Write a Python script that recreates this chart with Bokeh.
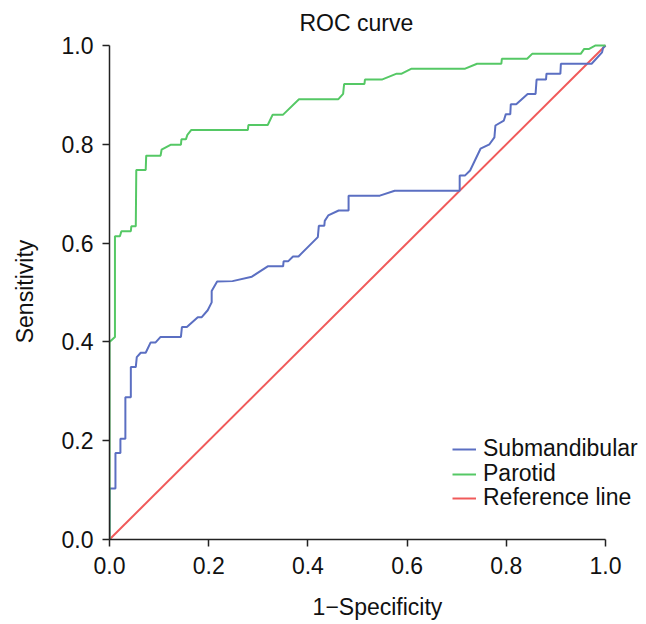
from bokeh.plotting import figure
from bokeh.models import Range1d, Legend, LegendItem, FixedTicker
from bokeh.embed import file_html
from bokeh.resources import INLINE

# Submandibular ROC curve (1-Specificity, Sensitivity)
sub_x = [0.0, 0.0, 0.012, 0.012, 0.022, 0.022, 0.032, 0.032, 0.043, 0.043, 0.053, 0.055,
         0.063, 0.073, 0.083, 0.093, 0.103, 0.144, 0.146, 0.156, 0.178, 0.186, 0.198, 0.206,
         0.206, 0.217, 0.248, 0.287, 0.319, 0.350, 0.351, 0.360, 0.370, 0.381, 0.420, 0.422,
         0.433, 0.434, 0.441, 0.462, 0.482, 0.482, 0.545, 0.575, 0.706, 0.706, 0.717, 0.727,
         0.748, 0.766, 0.776, 0.778, 0.795, 0.799, 0.808, 0.809, 0.820, 0.843, 0.859, 0.861,
         0.880, 0.881, 0.909, 0.910, 0.972, 0.993, 0.995, 1.0]
sub_y = [0.0, 0.103, 0.103, 0.175, 0.175, 0.204, 0.204, 0.288, 0.288, 0.349, 0.349, 0.369,
         0.378, 0.378, 0.399, 0.399, 0.410, 0.410, 0.430, 0.430, 0.450, 0.450, 0.464, 0.480,
         0.503, 0.522, 0.523, 0.532, 0.553, 0.553, 0.563, 0.563, 0.573, 0.573, 0.612, 0.635,
         0.635, 0.645, 0.656, 0.666, 0.666, 0.696, 0.696, 0.706, 0.706, 0.737, 0.737, 0.747,
         0.791, 0.800, 0.814, 0.838, 0.848, 0.861, 0.861, 0.881, 0.881, 0.902, 0.902, 0.931,
         0.931, 0.943, 0.943, 0.963, 0.963, 0.986, 0.995, 1.0]

# Parotid ROC curve
par_x = [0.0, 0.0, 0.011, 0.011, 0.021, 0.024, 0.043, 0.044, 0.053, 0.054, 0.073, 0.074,
         0.103, 0.105, 0.123, 0.144, 0.145, 0.154, 0.157, 0.165, 0.279, 0.280, 0.319, 0.329,
         0.350, 0.382, 0.461, 0.471, 0.473, 0.514, 0.515, 0.549, 0.579, 0.589, 0.609, 0.717,
         0.741, 0.790, 0.791, 0.842, 0.852, 0.950, 0.957, 0.967, 0.980, 1.0]
par_y = [0.0, 0.40, 0.41, 0.614, 0.614, 0.624, 0.624, 0.634, 0.634, 0.748, 0.748, 0.777,
         0.777, 0.789, 0.799, 0.799, 0.810, 0.810, 0.819, 0.829, 0.829, 0.839, 0.839, 0.860,
         0.860, 0.891, 0.891, 0.902, 0.922, 0.922, 0.931, 0.931, 0.943, 0.943, 0.953, 0.953,
         0.963, 0.963, 0.973, 0.973, 0.983, 0.983, 0.993, 0.993, 1.0, 1.0]

# Reference (chance) line
ref_x = [0.0, 1.0]
ref_y = [0.0, 1.0]

tick_values = [0.0, 0.2, 0.4, 0.6, 0.8, 1.0]
tick_labels = ["0.0", "0.2", "0.4", "0.6", "0.8", "1.0"]
series_names = ["Submandibular", "Parotid", "Reference line"]

FONT = "Liberation Sans"
FS = "23px"
BLUE = "#5b6fc2"
GREEN = "#55c865"
RED = "#f05a5a"

p = figure(frame_width=536, frame_height=496, output_backend="svg", toolbar_location=None,
           x_range=Range1d(0, 1.0806), y_range=Range1d(0, 1.004),
           min_border_left=109, min_border_right=0, min_border_top=0, min_border_bottom=70,
           title="ROC curve")
p.outline_line_color = None
p.grid.grid_line_color = None
p.background_fill_color = "white"

p.title.align = "left"
p.title.offset = 190
p.title.text_font = FONT
p.title.text_font_size = FS
p.title.text_font_style = "normal"
p.title.text_color = "#111111"
p.title.text_line_height = 1.0
p.title.standoff = 15

labels = dict(zip(tick_values, tick_labels))
for ax in (p.xaxis[0], p.yaxis[0]):
    ax.ticker = FixedTicker(ticks=tick_values)
    ax.major_label_overrides = labels
    ax.bounds = (0, 1)
    ax.minor_tick_line_color = None
    ax.major_tick_in = 0
    ax.major_tick_out = 7
    ax.axis_line_color = "#222222"
    ax.axis_line_width = 1.5
    ax.major_tick_line_color = "#222222"
    ax.major_tick_line_width = 1.5
    ax.major_label_text_font = FONT
    ax.major_label_text_font_size = FS
    ax.major_label_text_color = "#111111"
    ax.axis_label_text_font = FONT
    ax.axis_label_text_font_size = FS
    ax.axis_label_text_font_style = "normal"
    ax.axis_label_text_color = "#111111"

p.xaxis.major_label_standoff = 10
p.yaxis.major_label_standoff = 9
p.xaxis.axis_label = "1\u2212Specificity"
p.yaxis.axis_label = "Sensitivity"
p.xaxis.axis_label_standoff = 17
p.yaxis.axis_label_standoff = 21
p.yaxis.major_label_orientation = "horizontal"

r_ref = p.line(ref_x, ref_y, line_color=RED, line_width=2)
r_sub = p.line(sub_x, sub_y, line_color=BLUE, line_width=2)
r_par = p.line(par_x, par_y, line_color=GREEN, line_width=2)

# one single-row legend per entry, so the rows can sit as tightly as in the reference
legend_rows = [(series_names[0], r_sub, 77), (series_names[1], r_par, 52), (series_names[2], r_ref, 28)]
for name, rend, ypos in legend_rows:
    lg = Legend(items=[LegendItem(label=name, renderers=[rend])],
                location=(343, ypos), border_line_color=None, background_fill_alpha=0,
                padding=0, margin=0, spacing=0, glyph_width=24, label_standoff=7,
                label_text_font=FONT, label_text_font_size=FS, label_text_color="#111111")
    p.add_layout(lg)

open("out.html", "w").write(file_html(p, INLINE))
